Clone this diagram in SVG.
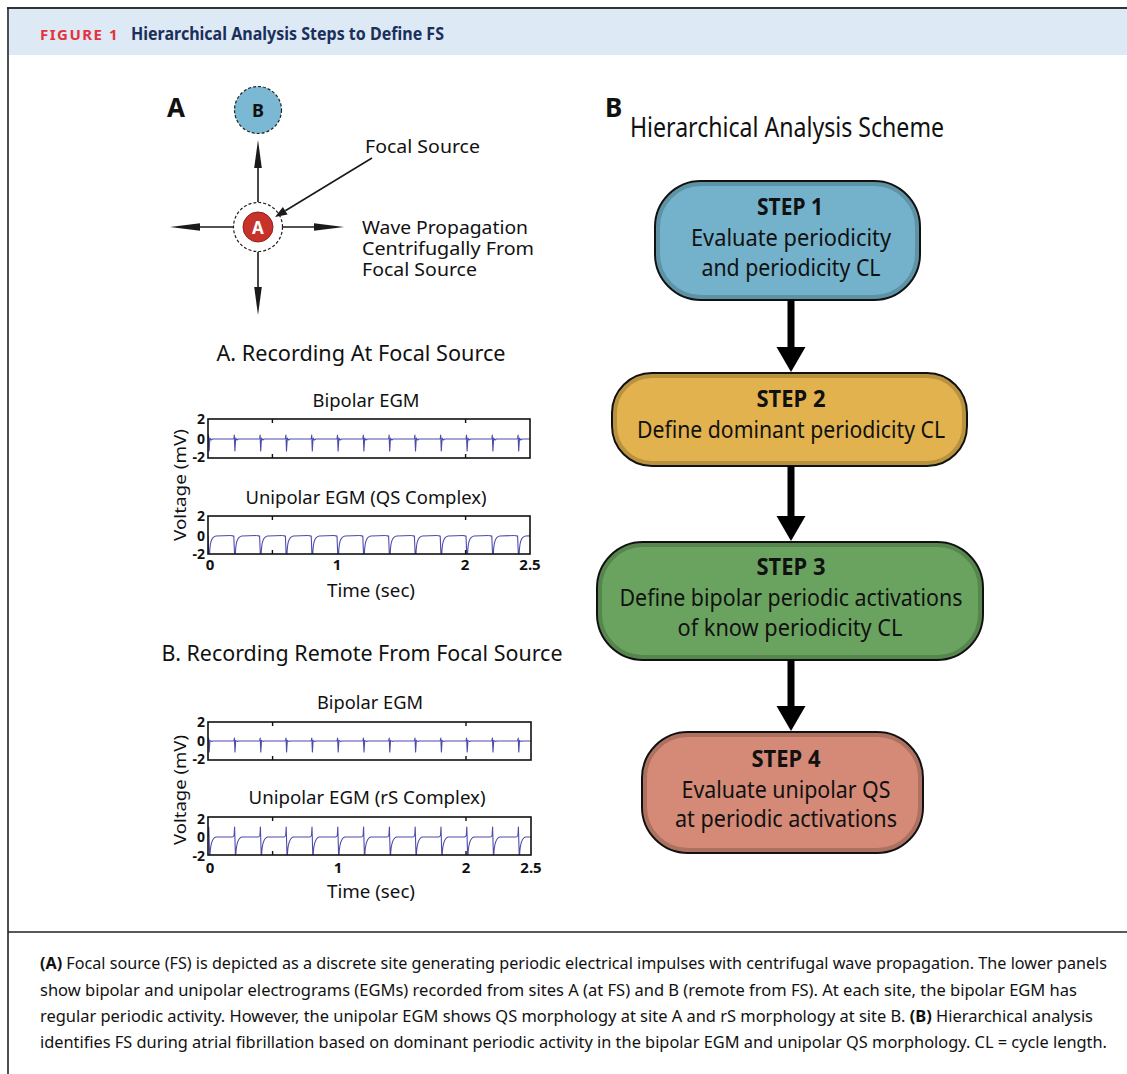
<svg xmlns="http://www.w3.org/2000/svg" xmlns:xlink="http://www.w3.org/1999/xlink" width="1127" height="1074" viewBox="0 0 1127 1074">
<style>
.f{font-family:"Noto Sans","Open Sans","Liberation Sans",sans-serif;fill:#111;}
.b{font-weight:bold;}
.lbl{font-size:18.5px;}
.ttl{font-size:21px;}
.sub{font-size:18px;}
.tick{font-size:14px;font-weight:bold;text-anchor:end;}
.xt{font-size:15px;font-weight:bold;text-anchor:middle;}
.step{font-size:23px;text-anchor:middle;}
.cap{font-size:16px;}
.trace{fill:none;stroke:#4b4bab;stroke-width:1.1;stroke-linejoin:round;}
.box{fill:none;stroke:#111;stroke-width:1.6;}
.tk{stroke:#111;stroke-width:1.4;}
.thin{stroke:#1a1a1a;stroke-width:1.6;fill:none;}
.head{fill:#1a1a1a;}
.sbox{stroke:#111;stroke-width:2;}
.bev{fill:none;stroke:#000;stroke-opacity:0.18;stroke-width:4;}
.shaft{stroke:#000;stroke-width:7;}
</style>
<defs>
<path id="bipA" d="M-1,0 L-0.5,-4 L0.1,12 L0.9,-1 L2.2,1 L3.5,0 L24.8,0"/>
<path id="qs" d="M-4,0 L-1,0.6 L-0.3,18 L0.6,18 C1,8 2,1.5 7,0.5 L21.8,0"/>
<path id="bipB" d="M-1,0 L-0.4,-3 L0.2,11 L0.9,-0.6 L2.5,0.4 L4,0 L24.8,0"/>
<path id="rs" d="M-2,0 L-0.7,-1.5 L-0.2,-10 L0.6,18 L1,18 C1.4,8 2.5,1 7,0 L23.8,0"/>
<clipPath id="cA1"><rect x="208" y="419" width="322" height="39"/></clipPath>
<clipPath id="cA2"><rect x="208" y="516" width="322" height="38"/></clipPath>
<clipPath id="cB1"><rect x="208" y="722" width="323" height="38"/></clipPath>
<clipPath id="cB2"><rect x="208" y="817" width="323" height="38"/></clipPath>
</defs>

<!-- frame -->
<rect x="9" y="9" width="1118" height="46" fill="#dde9f5"/>
<line x1="7" y1="8" x2="1127" y2="8" stroke="#333" stroke-width="2"/>
<line x1="8" y1="8" x2="8" y2="1074" stroke="#222" stroke-width="1.6"/>
<line x1="8" y1="932" x2="1127" y2="932" stroke="#222" stroke-width="1.6"/>
<text class="f b" x="40" y="39.5" font-size="15" letter-spacing="1.5" style="fill:#e4323c" textLength="79" lengthAdjust="spacingAndGlyphs">FIGURE 1</text>
<text class="f b" x="131" y="39.5" font-size="17" style="fill:#1a2f5a" textLength="313" lengthAdjust="spacingAndGlyphs">Hierarchical Analysis Steps to Define FS</text>

<!-- Panel A diagram -->
<g id="panelA-label"><text class="f b" x="167" y="117" font-size="26">A</text></g>
<g id="siteB">
<circle cx="258" cy="110" r="23.5" fill="#7ab8d3" stroke="#222" stroke-width="1.2" stroke-dasharray="3,2"/>
<text class="f b" x="258" y="117" font-size="18" text-anchor="middle">B</text>
</g>
<g id="siteA">
<circle cx="258" cy="227" r="24.5" fill="#fff" stroke="#222" stroke-width="1.2" stroke-dasharray="3,2"/>
<circle cx="258" cy="227" r="15" fill="#c7332a" stroke="#8e1f18" stroke-width="1"/>
<text class="f b" x="258" y="233.5" font-size="17" text-anchor="middle" style="fill:#fff">A</text>
</g>
<g id="panelA-labels">
<text class="f lbl" x="365" y="153" textLength="115" lengthAdjust="spacingAndGlyphs">Focal Source</text>
<text class="f lbl"><tspan x="362" y="234" textLength="166" lengthAdjust="spacingAndGlyphs">Wave Propagation</tspan><tspan x="362" y="255" textLength="172" lengthAdjust="spacingAndGlyphs">Centrifugally From</tspan><tspan x="362" y="276" textLength="115" lengthAdjust="spacingAndGlyphs">Focal Source</tspan></text>
</g>

<!-- Recording A -->
<g id="recA">
<text class="f ttl" x="361" y="361" text-anchor="middle" textLength="289" lengthAdjust="spacingAndGlyphs">A. Recording At Focal Source</text>
<text class="f sub" x="366" y="407" text-anchor="middle" textLength="107" lengthAdjust="spacingAndGlyphs">Bipolar EGM</text>
<text class="f sub" x="366" y="504" text-anchor="middle" textLength="241" lengthAdjust="spacingAndGlyphs">Unipolar EGM (QS Complex)</text>
<text class="f" font-size="17" transform="translate(186,485) rotate(-90)" text-anchor="middle" textLength="112" lengthAdjust="spacingAndGlyphs">Voltage (mV)</text>
<g clip-path="url(#cA1)" class="trace">
<use href="#bipA" x="209" y="439"/><use href="#bipA" x="234.8" y="439"/><use href="#bipA" x="260.6" y="439"/><use href="#bipA" x="286.4" y="439"/><use href="#bipA" x="312.2" y="439"/><use href="#bipA" x="338" y="439"/><use href="#bipA" x="363.8" y="439"/><use href="#bipA" x="389.6" y="439"/><use href="#bipA" x="415.4" y="439"/><use href="#bipA" x="441.2" y="439"/><use href="#bipA" x="467" y="439"/><use href="#bipA" x="492.8" y="439"/><use href="#bipA" x="518.6" y="439"/>
</g>
<g clip-path="url(#cA2)" class="trace">
<use href="#qs" x="209" y="535.5"/><use href="#qs" x="234.8" y="535.5"/><use href="#qs" x="260.6" y="535.5"/><use href="#qs" x="286.4" y="535.5"/><use href="#qs" x="312.2" y="535.5"/><use href="#qs" x="338" y="535.5"/><use href="#qs" x="363.8" y="535.5"/><use href="#qs" x="389.6" y="535.5"/><use href="#qs" x="415.4" y="535.5"/><use href="#qs" x="441.2" y="535.5"/><use href="#qs" x="467" y="535.5"/><use href="#qs" x="492.8" y="535.5"/><use href="#qs" x="518.6" y="535.5"/>
</g>
<rect class="box" x="208" y="419" width="322" height="39"/>
<rect class="box" x="208" y="516" width="322" height="38"/>
<path class="tk" d="M272.4,419v4M465.6,419v4M272.4,458v-4M465.6,458v-4M272.4,516v4M465.6,516v4M272.4,554v-4M465.6,554v-4"/>
<text class="f tick" x="205" y="424">2</text>
<text class="f tick" x="205" y="443.5">0</text>
<text class="f tick" x="205" y="462">-2</text>
<text class="f tick" x="205" y="521">2</text>
<text class="f tick" x="205" y="540.5">0</text>
<text class="f tick" x="205" y="559">-2</text>
<text class="f xt" x="210" y="570">0</text>
<text class="f xt" x="337" y="570">1</text>
<text class="f xt" x="465" y="570">2</text>
<text class="f xt" x="530" y="570">2.5</text>
<text class="f sub" x="371" y="597" text-anchor="middle" textLength="88" lengthAdjust="spacingAndGlyphs">Time (sec)</text>
</g>

<!-- Recording B -->
<g id="recB">
<text class="f ttl" x="362" y="661" text-anchor="middle" textLength="401" lengthAdjust="spacingAndGlyphs">B. Recording Remote From Focal Source</text>
<text class="f sub" x="370" y="709" text-anchor="middle" textLength="106" lengthAdjust="spacingAndGlyphs">Bipolar EGM</text>
<text class="f sub" x="367" y="804" text-anchor="middle" textLength="237" lengthAdjust="spacingAndGlyphs">Unipolar EGM (rS Complex)</text>
<text class="f" font-size="17" transform="translate(186,790) rotate(-90)" text-anchor="middle" textLength="110" lengthAdjust="spacingAndGlyphs">Voltage (mV)</text>
<g clip-path="url(#cB1)" class="trace">
<use href="#bipB" x="209" y="741"/><use href="#bipB" x="234.8" y="741"/><use href="#bipB" x="260.6" y="741"/><use href="#bipB" x="286.4" y="741"/><use href="#bipB" x="312.2" y="741"/><use href="#bipB" x="338" y="741"/><use href="#bipB" x="363.8" y="741"/><use href="#bipB" x="389.6" y="741"/><use href="#bipB" x="415.4" y="741"/><use href="#bipB" x="441.2" y="741"/><use href="#bipB" x="467" y="741"/><use href="#bipB" x="492.8" y="741"/><use href="#bipB" x="518.6" y="741"/>
</g>
<g clip-path="url(#cB2)" class="trace">
<use href="#rs" x="209" y="837"/><use href="#rs" x="234.8" y="837"/><use href="#rs" x="260.6" y="837"/><use href="#rs" x="286.4" y="837"/><use href="#rs" x="312.2" y="837"/><use href="#rs" x="338" y="837"/><use href="#rs" x="363.8" y="837"/><use href="#rs" x="389.6" y="837"/><use href="#rs" x="415.4" y="837"/><use href="#rs" x="441.2" y="837"/><use href="#rs" x="467" y="837"/><use href="#rs" x="492.8" y="837"/><use href="#rs" x="518.6" y="837"/>
</g>
<rect class="box" x="208" y="722" width="323" height="38"/>
<rect class="box" x="208" y="817" width="323" height="38"/>
<path class="tk" d="M272.6,722v4M466,722v4M272.6,760v-4M466,760v-4M272.6,817v4M466,817v4M272.6,855v-4M466,855v-4"/>
<text class="f tick" x="205" y="727">2</text>
<text class="f tick" x="205" y="745.5">0</text>
<text class="f tick" x="205" y="764">-2</text>
<text class="f tick" x="205" y="824">2</text>
<text class="f tick" x="205" y="842">0</text>
<text class="f tick" x="205" y="861">-2</text>
<text class="f xt" x="210" y="873">0</text>
<text class="f xt" x="338" y="873">1</text>
<text class="f xt" x="466" y="873">2</text>
<text class="f xt" x="531" y="873">2.5</text>
<text class="f sub" x="371" y="898" text-anchor="middle" textLength="88" lengthAdjust="spacingAndGlyphs">Time (sec)</text>
</g>

<!-- Panel B -->
<g id="panelB-title">
<text class="f b" x="605" y="117" font-size="26">B</text>
<text class="f" x="630" y="137" font-size="27" textLength="314" lengthAdjust="spacingAndGlyphs">Hierarchical Analysis Scheme</text>
</g>
<g id="step1">
<rect class="sbox" x="655" y="181" width="265" height="119" rx="46" fill="#73b2ca"/>
<rect class="bev" x="658" y="184" width="259" height="113" rx="43"/>
<text class="f b step" x="790" y="215" textLength="66" lengthAdjust="spacingAndGlyphs">STEP 1</text>
<text class="f step" x="791" y="246" textLength="200" lengthAdjust="spacingAndGlyphs">Evaluate periodicity</text>
<text class="f step" x="791" y="276" textLength="179" lengthAdjust="spacingAndGlyphs">and periodicity CL</text>
</g>
<g id="step2">
<rect class="sbox" x="612" y="373" width="355" height="93" rx="40" fill="#e1b24e"/>
<rect class="bev" x="615" y="376" width="349" height="87" rx="37"/>
<text class="f b step" x="791" y="407" textLength="69" lengthAdjust="spacingAndGlyphs">STEP 2</text>
<text class="f step" x="791" y="438" textLength="308" lengthAdjust="spacingAndGlyphs">Define dominant periodicity CL</text>
</g>
<g id="step3">
<rect class="sbox" x="597" y="542" width="386" height="118" rx="46" fill="#6aa35f"/>
<rect class="bev" x="600" y="545" width="380" height="112" rx="43"/>
<text class="f b step" x="791" y="575" textLength="69" lengthAdjust="spacingAndGlyphs">STEP 3</text>
<text class="f step" x="791" y="606" textLength="343" lengthAdjust="spacingAndGlyphs">Define bipolar periodic activations</text>
<text class="f step" x="790" y="636" textLength="225" lengthAdjust="spacingAndGlyphs">of know periodicity CL</text>
</g>
<g id="step4">
<rect class="sbox" x="642" y="732" width="281" height="121" rx="46" fill="#d48a77"/>
<rect class="bev" x="645" y="735" width="275" height="115" rx="43"/>
<text class="f b step" x="786" y="767" textLength="69" lengthAdjust="spacingAndGlyphs">STEP 4</text>
<text class="f step" x="786" y="798" textLength="209" lengthAdjust="spacingAndGlyphs">Evaluate unipolar QS</text>
<text class="f step" x="786" y="827" textLength="222" lengthAdjust="spacingAndGlyphs">at periodic activations</text>
</g>

<!-- connectors -->
<g id="connectors">
<line class="thin" x1="258" y1="202" x2="258" y2="160"/>
<polygon class="head" points="258,140 254.2,168 261.8,168"/>
<line class="thin" x1="233" y1="227" x2="190" y2="227"/>
<polygon class="head" points="170,227 200,223.2 200,230.8"/>
<line class="thin" x1="283" y1="227" x2="325" y2="227"/>
<polygon class="head" points="344,227 314,223.2 314,230.8"/>
<line class="thin" x1="258" y1="252" x2="258" y2="295"/>
<polygon class="head" points="258,315 254.2,287 261.8,287"/>
<line class="thin" x1="372" y1="158" x2="285.3" y2="210.8"/>
<polygon class="head" points="275,217 287.6,214.6 282.9,206.9"/>

<line class="shaft" x1="791" y1="300" x2="791" y2="350"/>
<polygon points="791,372 776.5,347 805.5,347" fill="#000"/>
<line class="shaft" x1="791" y1="466" x2="791" y2="519"/>
<polygon points="791,541 776.5,516 805.5,516" fill="#000"/>
<line class="shaft" x1="791" y1="660" x2="791" y2="709"/>
<polygon points="791,731 776.5,706 805.5,706" fill="#000"/>
</g>

<!-- caption -->
<g id="caption">
<text class="f cap" x="40" y="969" textLength="1067" lengthAdjust="spacingAndGlyphs"><tspan font-weight="bold">(A)</tspan> Focal source (FS) is depicted as a discrete site generating periodic electrical impulses with centrifugal wave propagation. The lower panels</text>
<text class="f cap" x="40" y="996" textLength="1037" lengthAdjust="spacingAndGlyphs">show bipolar and unipolar electrograms (EGMs) recorded from sites A (at FS) and B (remote from FS). At each site, the bipolar EGM has</text>
<text class="f cap" x="40" y="1022" textLength="1053" lengthAdjust="spacingAndGlyphs">regular periodic activity. However, the unipolar EGM shows QS morphology at site A and rS morphology at site B. <tspan font-weight="bold">(B)</tspan> Hierarchical analysis</text>
<text class="f cap" x="40" y="1048" textLength="1067" lengthAdjust="spacingAndGlyphs">identifies FS during atrial fibrillation based on dominant periodic activity in the bipolar EGM and unipolar QS morphology. CL = cycle length.</text>
</g>
</svg>
